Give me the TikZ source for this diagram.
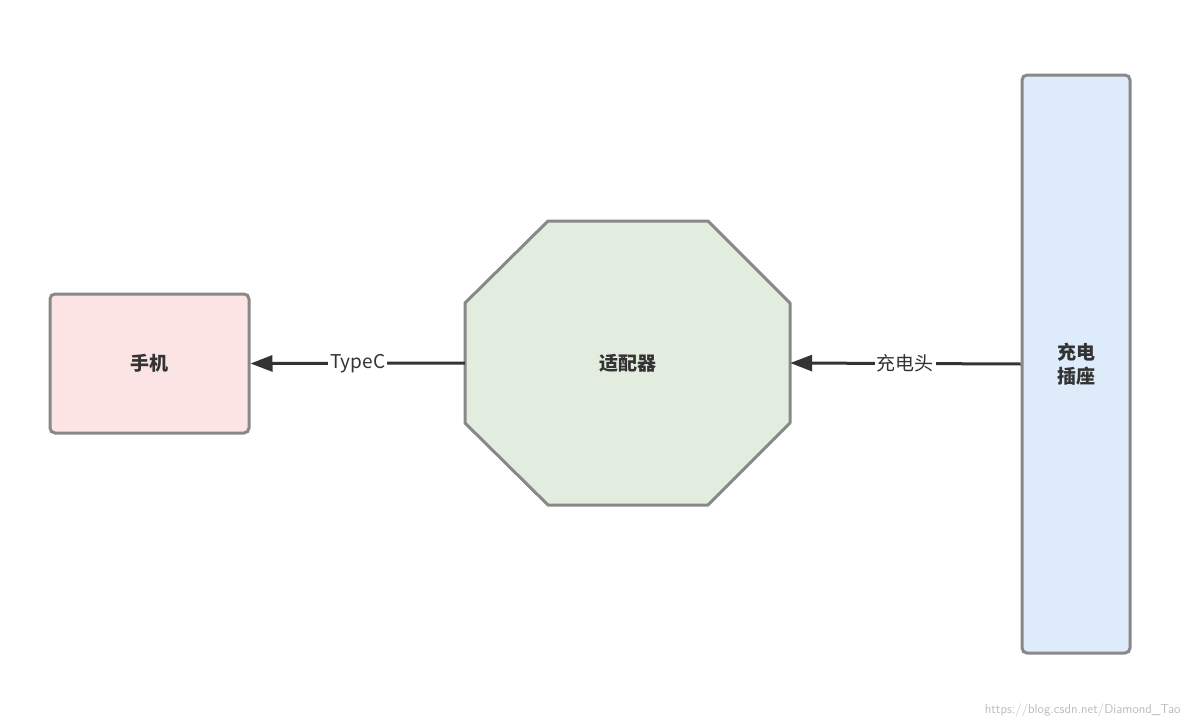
\documentclass[tikz,border=0pt]{standalone}
\usepackage{fontspec}
\newfontfamily\cjk{Noto Sans CJK SC}
\usetikzlibrary{arrows.meta}
\definecolor{edge}{HTML}{888888}
\definecolor{line}{HTML}{333333}
\definecolor{pinkf}{HTML}{FCE4E4}
\definecolor{greenf}{HTML}{E2EDE0}
\definecolor{bluef}{HTML}{DDEBFA}
\definecolor{wmc}{HTML}{BBBBBB}
\tikzset{box/.style={draw=edge,line width=3pt,rounded corners=5pt,inner sep=0pt},
 conn/.style={draw=line,line width=3pt,-{Triangle[length=22pt,width=16pt]}},
 lab/.style={fill=white,inner sep=2pt,font=\cjk\fontsize{19}{19}\selectfont,text=line},
 title/.style={font=\cjk\bfseries\fontsize{19}{24}\selectfont,text=line,align=center}}
\begin{document}
\begin{tikzpicture}[x=1pt,y=-1pt]
\useasboundingbox (0,0) rectangle (1192,728);
\node[box,fill=pinkf,minimum width=199pt,minimum height=139pt] (phone) at (149.5,363.5) {};
\node[title] at (phone) {手机};
\draw[edge,line width=3pt,fill=greenf,line join=round] (548,221)--(708,221)--(790,303)--(790,423)--(708,505)--(548,505)--(465,423)--(465,303)--cycle;
\node[minimum width=325pt,minimum height=284pt,inner sep=0pt] (adapter) at (627.5,363) {};
\node[title] at (adapter) {适配器};
\node[box,fill=bluef,minimum width=108pt,minimum height=578pt] (socket) at (1076,364) {};
\node[title] at (socket) {充电\\插座};
\draw[conn] (adapter.west) -- node[lab]{TypeC} (phone.east);
\draw[conn] (socket.west) -- node[lab]{充电头} (adapter.east);
\node[font=\fontsize{13}{13}\selectfont\sffamily,text=wmc,anchor=east] (wm) at (1184,710) {https://blog.csdn.net/Diamond\_Tao};
\end{tikzpicture}
\end{document}
